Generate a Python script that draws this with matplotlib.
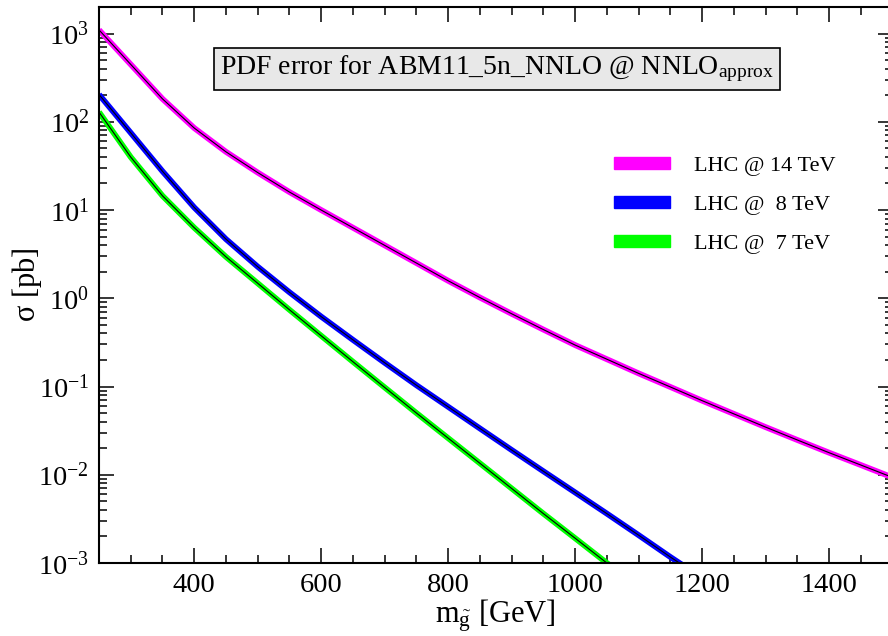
import numpy as np
import matplotlib
matplotlib.use("Agg")
import matplotlib.pyplot as plt
from matplotlib.patches import Patch
from matplotlib.ticker import LogLocator, FixedLocator, FuncFormatter, NullFormatter

plt.rcParams['font.family'] = ['Liberation Serif', 'DejaVu Serif']
plt.rcParams['mathtext.fontset'] = 'custom'
plt.rcParams['mathtext.rm'] = 'Liberation Serif'
plt.rcParams['mathtext.it'] = 'Liberation Serif:italic'
plt.rcParams['mathtext.bf'] = 'Liberation Serif:bold'

# gluino mass [GeV]
mass = [250, 300, 350, 400, 450, 500, 550, 600, 650, 700, 750, 800, 850, 900, 950,
        1000, 1050, 1100, 1150, 1200, 1250, 1300, 1350, 1400, 1450, 1500]

nan = np.nan
# cross sections [pb]
xsec_14 = [1100, 447, 182, 85, 45.7, 26.6, 16.0, 10.0, 6.31, 3.98, 2.51, 1.58, 1.02, 0.668, 0.442,
           0.295, 0.204, 0.141, 0.0989, 0.0692, 0.0490, 0.0347, 0.0248, 0.0178, 0.0129, 0.00933]
xsec_8 = [204, 75.0, 27.5, 10.7, 4.68, 2.28, 1.17, 0.62, 0.338, 0.186, 0.1035, 0.0589, 0.0335,
          0.0191, 0.01096, 0.00631, 0.00363, 0.00207, 0.00117, 0.000676, nan, nan, nan, nan, nan, nan]
xsec_7 = [129, 39.8, 14.5, 6.31, 2.95, 1.48, 0.741, 0.376, 0.191, 0.0977, 0.0501, 0.0260, 0.0135,
          0.00700, 0.00363, 0.00191, 0.00100, 0.000525, nan, nan, nan, nan, nan, nan, nan, nan]

labels = ['LHC @ 14 TeV', 'LHC @  8 TeV', 'LHC @  7 TeV']
colors = ['#ff00ff', '#0000ff', '#00ff00']
series = [xsec_14, xsec_8, xsec_7]

fig = plt.figure(figsize=(8.88, 6.36), dpi=100)
ax = fig.add_axes([99/888, 1-563/636, (892.5-99)/888, (563-7)/636])

for ys, c in zip(series, colors):
    ax.plot(mass, ys, color=c, lw=4.2, solid_capstyle='butt', solid_joinstyle='round', zorder=2)
    ax.plot(mass, ys, color='black', lw=0.8, zorder=3)

ax.set_yscale('log')
ax.set_xlim(250, 1500)
ax.set_ylim(1e-3, 2e3)

ax.xaxis.set_major_locator(FixedLocator([400, 600, 800, 1000, 1200, 1400]))
ax.xaxis.set_minor_locator(FixedLocator(np.arange(300, 1500, 50)))
ax.yaxis.set_major_locator(FixedLocator([1e-3, 1e-2, 1e-1, 1e0, 1e1, 1e2, 1e3]))
ax.yaxis.set_minor_locator(LogLocator(base=10, subs=np.arange(2, 10), numticks=20))
ax.yaxis.set_major_formatter(FuncFormatter(lambda v, p: r'$\mathregular{10^{%d}}$' % int(round(np.log10(v)))))
ax.yaxis.set_minor_formatter(NullFormatter())

ax.tick_params(which='both', direction='in', top=True, right=True, labelsize=20.5, width=1.1)
ax.tick_params(which='major', length=11, pad=7)
ax.tick_params(which='minor', length=5.8)
for s in ax.spines.values():
    s.set_linewidth(1.5)

ax.set_xlabel(r'$\mathregular{m_{\tilde{g}}}$ [GeV]', fontsize=22, labelpad=0)
ax.set_ylabel(r'$\mathregular{\sigma}$ [pb]', fontsize=22)
ax.yaxis.set_label_coords((44-99)/793.5, 0.5)

ax.text(497/888, 1-69/636, r'PDF error for ABM11_5n_NNLO @ NNLO$\mathregular{_{approx}}$',
        transform=fig.transFigure, ha='center', va='center', fontsize=20,
        bbox=dict(boxstyle='square,pad=0.22', fc='#e8e8e8', ec='black', lw=1.2))

handles = [Patch(facecolor=c, edgecolor=c, hatch='....', lw=1) for c in colors]
leg = ax.legend(handles, labels, loc='upper left', bbox_to_anchor=(596/888, 1-139/636),
                bbox_transform=fig.transFigure, frameon=False, fontsize=16,
                handlelength=2.55, handleheight=0.42, handletextpad=1.05, labelspacing=0.9,
                borderpad=0.3)

fig.savefig('out.png', dpi=100)
